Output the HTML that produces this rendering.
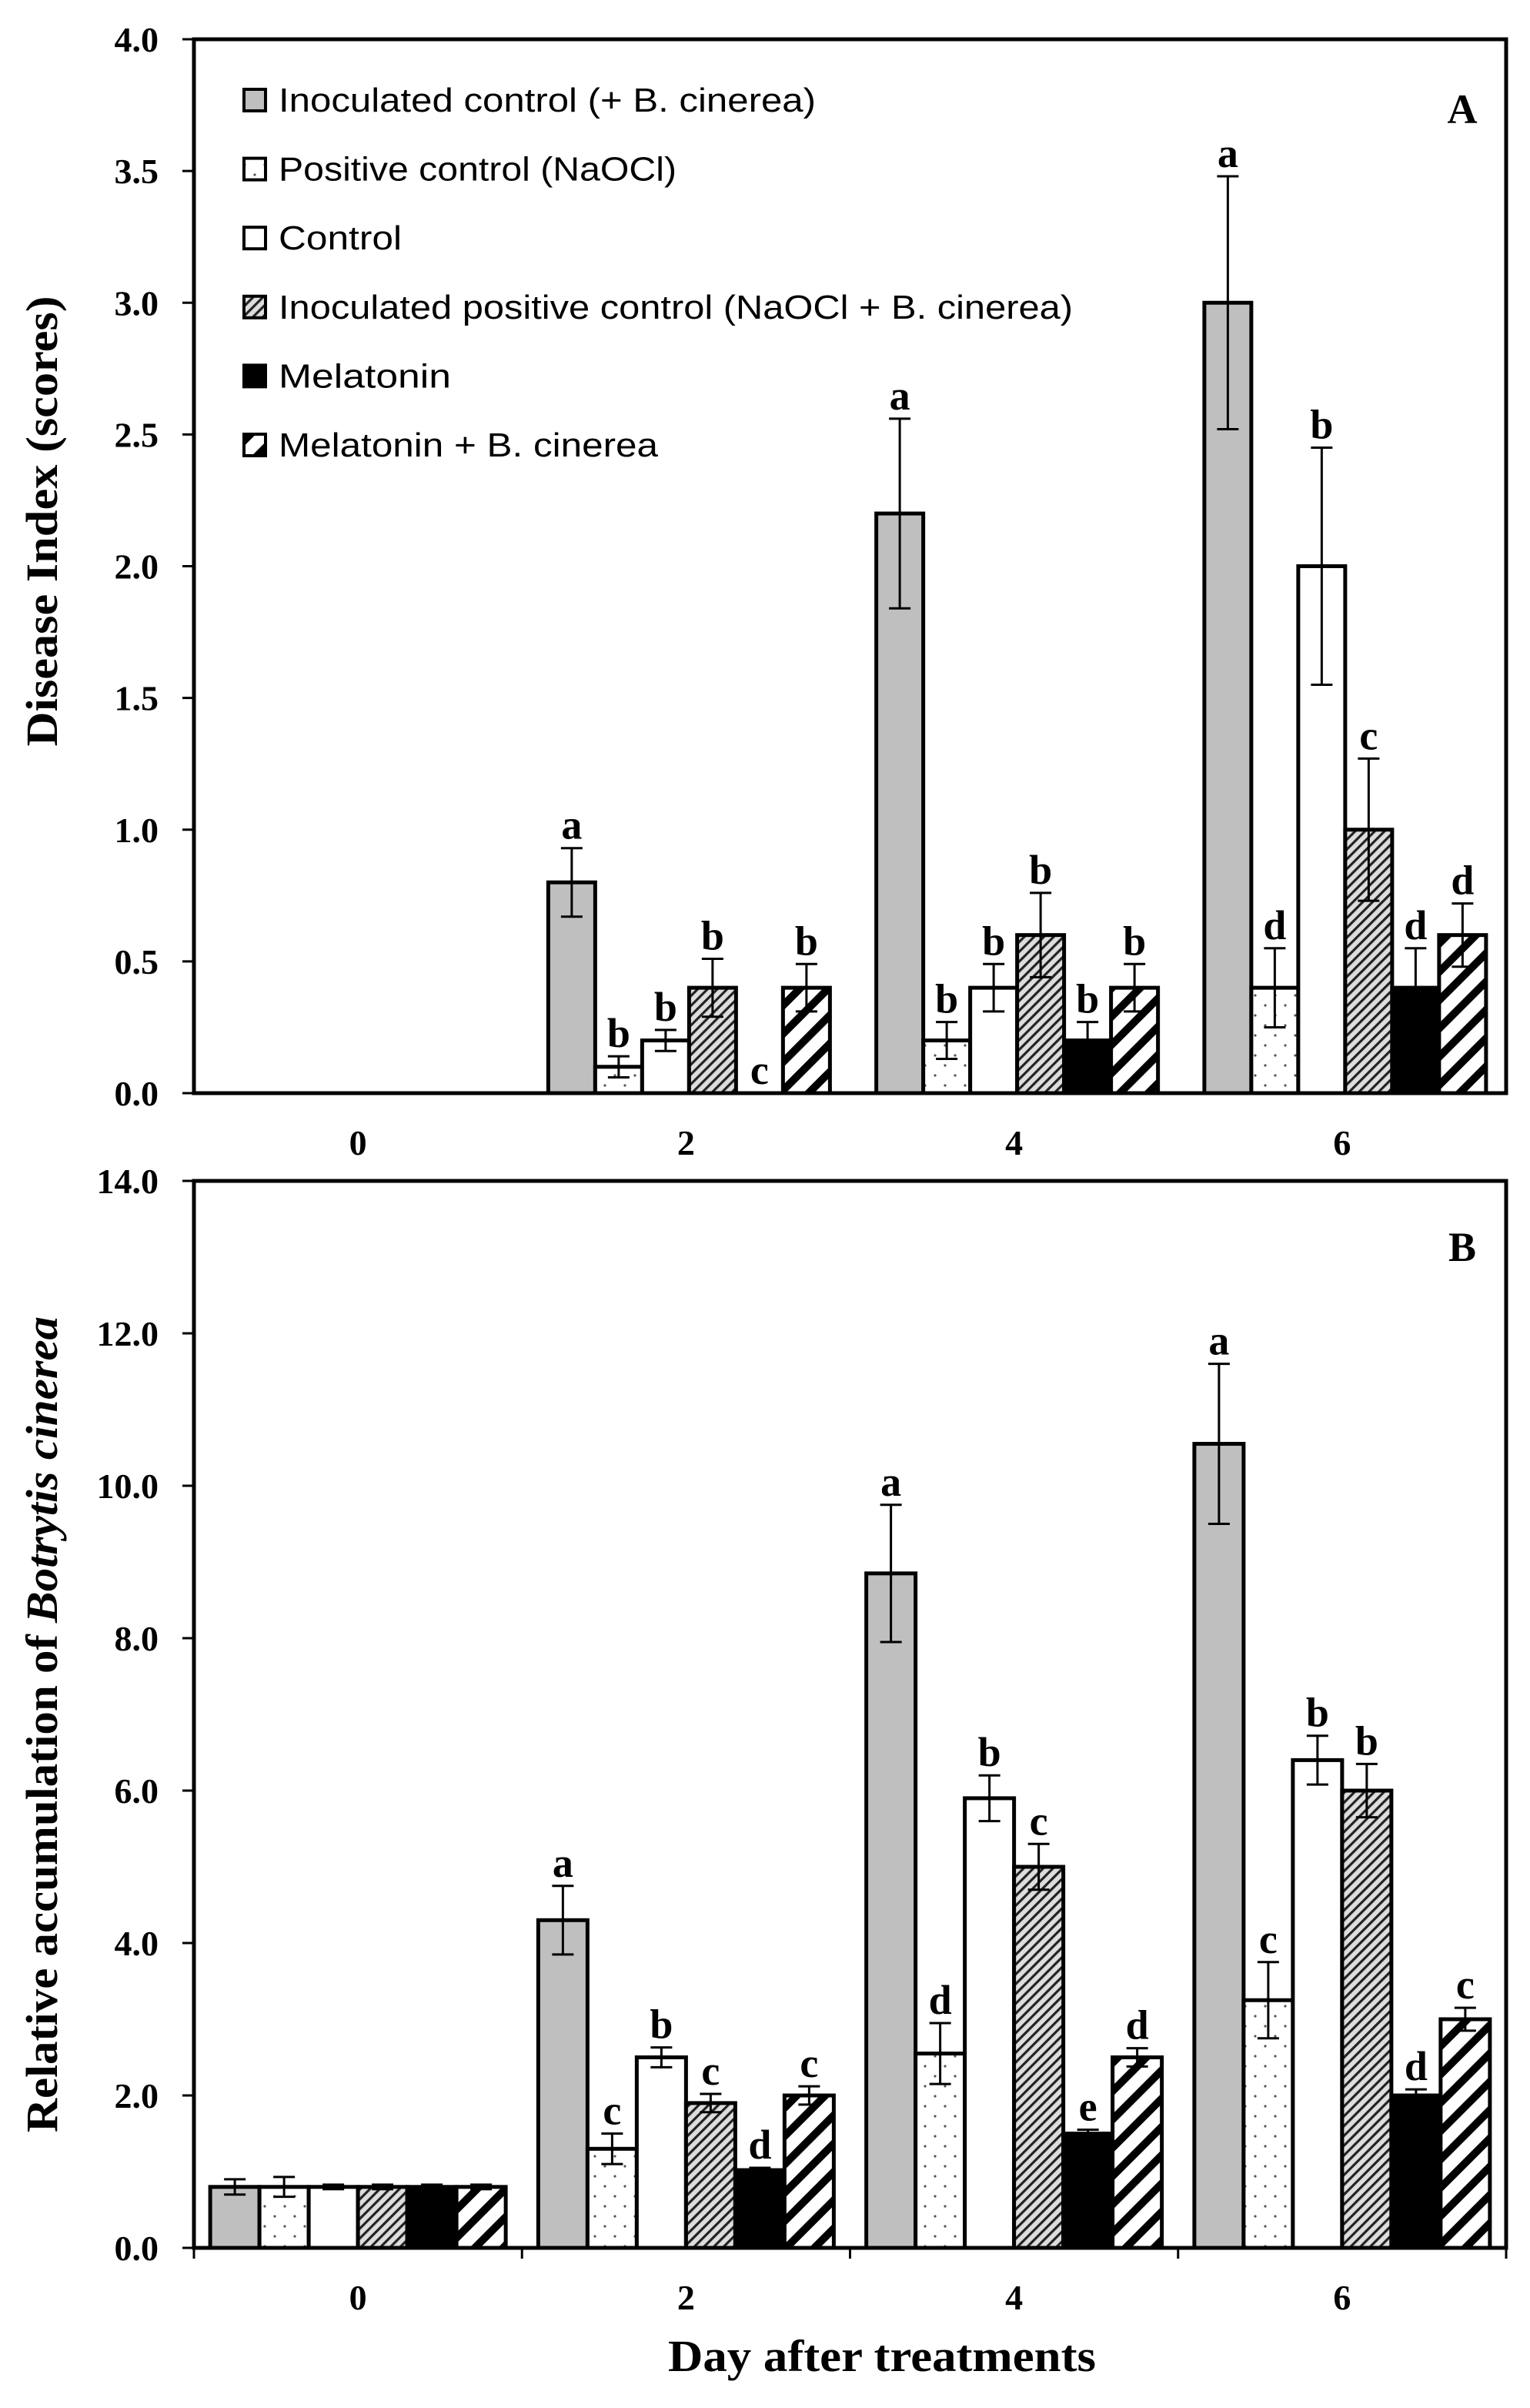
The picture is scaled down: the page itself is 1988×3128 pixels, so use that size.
<!DOCTYPE html>
<html><head><meta charset="utf-8">
<style>
html,body{margin:0;padding:0;background:#fff;}
svg{display:block;}
.tick{font-family:"Liberation Serif",serif;font-weight:bold;font-size:46px;fill:#000;}
.let{font-family:"Liberation Serif",serif;font-weight:bold;font-size:54px;fill:#000;}
.leg{font-family:"Liberation Sans",sans-serif;font-size:44px;fill:#000;}
.ttl{font-family:"Liberation Serif",serif;font-weight:bold;font-size:58px;fill:#000;}
</style></head>
<body>
<svg id="chart" width="1988" height="3128" viewBox="0 0 1988 3128" xmlns="http://www.w3.org/2000/svg">
<defs>
<pattern id="p-dots" patternUnits="userSpaceOnUse" width="26" height="26"><rect width="26" height="26" fill="#fff"/><circle cx="6" cy="6" r="1.6" fill="#555"/><circle cx="19" cy="19" r="1.6" fill="#555"/></pattern>
<pattern id="p-fine" patternUnits="userSpaceOnUse" width="9" height="9" patternTransform="rotate(45)"><rect width="9" height="9" fill="#ddd"/><rect x="0" y="0" width="3.2" height="9" fill="#222"/></pattern>
<pattern id="p-wide" patternUnits="userSpaceOnUse" width="26" height="26" patternTransform="rotate(45)"><rect width="26" height="26" fill="#fff"/><rect x="0" y="0" width="10" height="26" fill="#000"/></pattern>
</defs>
<g id="root"></g>
</svg>
<script>
const days = ["0","2","4","6"];
const series = ["Inoculated control (+ B. cinerea)","Positive control (NaOCl)","Control","Inoculated positive control (NaOCl + B. cinerea)","Melatonin","Melatonin + B. cinerea"];
const fills = ["#bfbfbf","url(#p-dots)","#fff","url(#p-fine)","#000","url(#p-wide)"];

// Panel A: Disease index, per series, values by day
const aInoc = [0, 0.8, 2.2, 3.0];
const aPos = [0, 0.1, 0.2, 0.4];
const aCtrl = [0, 0.2, 0.4, 2.0];
const aInocPos = [0, 0.4, 0.6, 1.0];
const aMel = [0, 0, 0.2, 0.4];
const aMelB = [0, 0.4, 0.4, 0.6];
const aErrInoc = [0, 0.13, 0.36, 0.48];
const aErrPos = [0, 0.04, 0.07, 0.15];
const aErrCtrl = [0, 0.04, 0.09, 0.45];
const aErrInocPos = [0, 0.11, 0.16, 0.27];
const aErrMel = [0, 0, 0.07, 0.15];
const aErrMelB = [0, 0.09, 0.09, 0.12];
const aLetters = [["","","","","",""],["a","b","b","b","c","b"],["a","b","b","b","b","b"],["a","d","b","c","d","d"]];
const aTicks = ["0.0","0.5","1.0","1.5","2.0","2.5","3.0","3.5","4.0"];

// Panel B: Relative accumulation
const bInoc = [0.8, 4.3, 8.85, 10.55];
const bPos = [0.8, 1.3, 2.55, 3.25];
const bCtrl = [0.8, 2.5, 5.9, 6.4];
const bInocPos = [0.8, 1.9, 5.0, 6.0];
const bMel = [0.8, 1.02, 1.5, 2.0];
const bMelB = [0.8, 2.0, 2.5, 3.0];
const bErrInoc = [0.1, 0.45, 0.9, 1.05];
const bErrPos = [0.13, 0.2, 0.4, 0.5];
const bErrCtrl = [0.03, 0.13, 0.3, 0.32];
const bErrInocPos = [0.03, 0.12, 0.3, 0.35];
const bErrMel = [0.03, 0.03, 0.05, 0.08];
const bErrMelB = [0.03, 0.12, 0.12, 0.15];
const bLetters = [["","","","","",""],["a","c","b","c","d","c"],["a","d","b","c","e","d"],["a","c","b","b","d","c"]];
const bTicks = ["0.0","2.0","4.0","6.0","8.0","10.0","12.0","14.0"];

const NS="http://www.w3.org/2000/svg";
const root=document.getElementById('root');
function mk(tag,attrs,parent,text){const e=document.createElementNS(NS,tag);for(const k in attrs)e.setAttribute(k,attrs[k]);if(text!==undefined)e.textContent=text;(parent||root).appendChild(e);return e;}

function panel(p){
  const g=mk('g',{});
  
  
  const L=252,R=1957,T=p.top,B=p.bottom;
  const y=v=>B-(v/p.max)*(B-T);
  const gw=(R-L)/days.length, bw=p.bw, pad=(gw-6*bw)/2+p.shift;
  const vals=p.vals, errs=p.errs;
  for(let d=0;d<days.length;d++){
    for(let s=0;s<6;s++){
      const v=vals[s][d], e=errs[s][d];
      const x=L+d*gw+pad+s*bw;
      if(v>0){
        const r=mk('rect',{x:x,y:y(v),width:bw,height:B-y(v),fill:fills[s],stroke:'#000','stroke-width':5},g);
        
        
      }
      const cx=x+bw/2;
      if(e>0){
        const eb=mk('path',{d:`M${cx},${y(v+e)}V${y(v-e)}M${cx-14},${y(v+e)}H${cx+14}M${cx-14},${y(v-e)}H${cx+14}`,stroke:'#000','stroke-width':3,fill:'none'},g);
        
        
      }
      const lt=p.letters[d][s];
      if(lt){
        const tt=mk('text',{x:cx,y:y(v+e)-12,'text-anchor':'middle',class:'let'},g,lt);
        
        
      }
    }
    const xl=mk('text',{x:L+d*gw+gw/2,y:p.xlabY,'text-anchor':'middle',class:'tick'},g,days[d]);
    
    
    if(p.xticks){
      const tk=mk('line',{x1:L+d*gw,x2:L+d*gw,y1:B,y2:B+14,stroke:'#000','stroke-width':3},g);
      
      
    }
  }
  if(p.xticks){mk('line',{x1:R,x2:R,y1:B,y2:B+14,stroke:'#000','stroke-width':3},g);}
  const fr=mk('rect',{x:L,y:T,width:R-L,height:B-T,fill:'none',stroke:'#000','stroke-width':5},g);
  
  
  p.ticks.forEach((t,i)=>{
    const v=parseFloat(t);
    mk('line',{x1:237,x2:L,y1:y(v),y2:y(v),stroke:'#000','stroke-width':3},g);
    const tl=mk('text',{x:206,y:y(v)+16,'text-anchor':'end',class:'tick'},g,t);
    
    
  });
  const pl=mk('text',{x:1900,y:p.letterY,'text-anchor':'middle',class:'let'},g,p.letter);
  
  
  return g;
}

panel({name:'panel-a-disease-index',top:51,bottom:1420,max:4,bw:61,shift:4,vals:[aInoc,aPos,aCtrl,aInocPos,aMel,aMelB],errs:[aErrInoc,aErrPos,aErrCtrl,aErrInocPos,aErrMel,aErrMelB],letters:aLetters,ticks:aTicks,xlabY:1500,xticks:false,letter:'A',letterY:160});
panel({name:'panel-b-botrytis',top:1534,bottom:2920,max:14,bw:64,shift:0,vals:[bInoc,bPos,bCtrl,bInocPos,bMel,bMelB],errs:[bErrInoc,bErrPos,bErrCtrl,bErrInocPos,bErrMel,bErrMelB],letters:bLetters,ticks:bTicks,xlabY:3000,xticks:true,letter:'B',letterY:1638});

const lg=mk('g',{});


const legW=[698,517,160,1032,224,493];
series.forEach((s,i)=>{
  const cy=130+i*89.6;
  const it=mk('g',{},lg);
  
  
  mk('rect',{x:317,y:cy-14,width:28,height:28,fill:fills[i],stroke:'#000','stroke-width':4},it);
  mk('text',{x:362,y:cy+15,class:'leg',textLength:legW[i],lengthAdjust:'spacingAndGlyphs'},it,s);
});

const ya=mk('text',{x:0,y:0,transform:'translate(74,677) rotate(-90)','text-anchor':'middle',class:'ttl',textLength:585,lengthAdjust:'spacingAndGlyphs'},null,'Disease Index (scores)');


const yb=mk('text',{x:0,y:0,transform:'translate(74,2240) rotate(-90)','text-anchor':'middle',class:'ttl',textLength:1060,lengthAdjust:'spacingAndGlyphs'},null);


mk('tspan',{},yb,'Relative accumulation of ');
mk('tspan',{'font-style':'italic'},yb,'Botrytis cinerea');
const xa=mk('text',{x:1146,y:3080,'text-anchor':'middle',class:'ttl',textLength:556,lengthAdjust:'spacingAndGlyphs'},null,'Day after treatments');


</script>
</body></html>
